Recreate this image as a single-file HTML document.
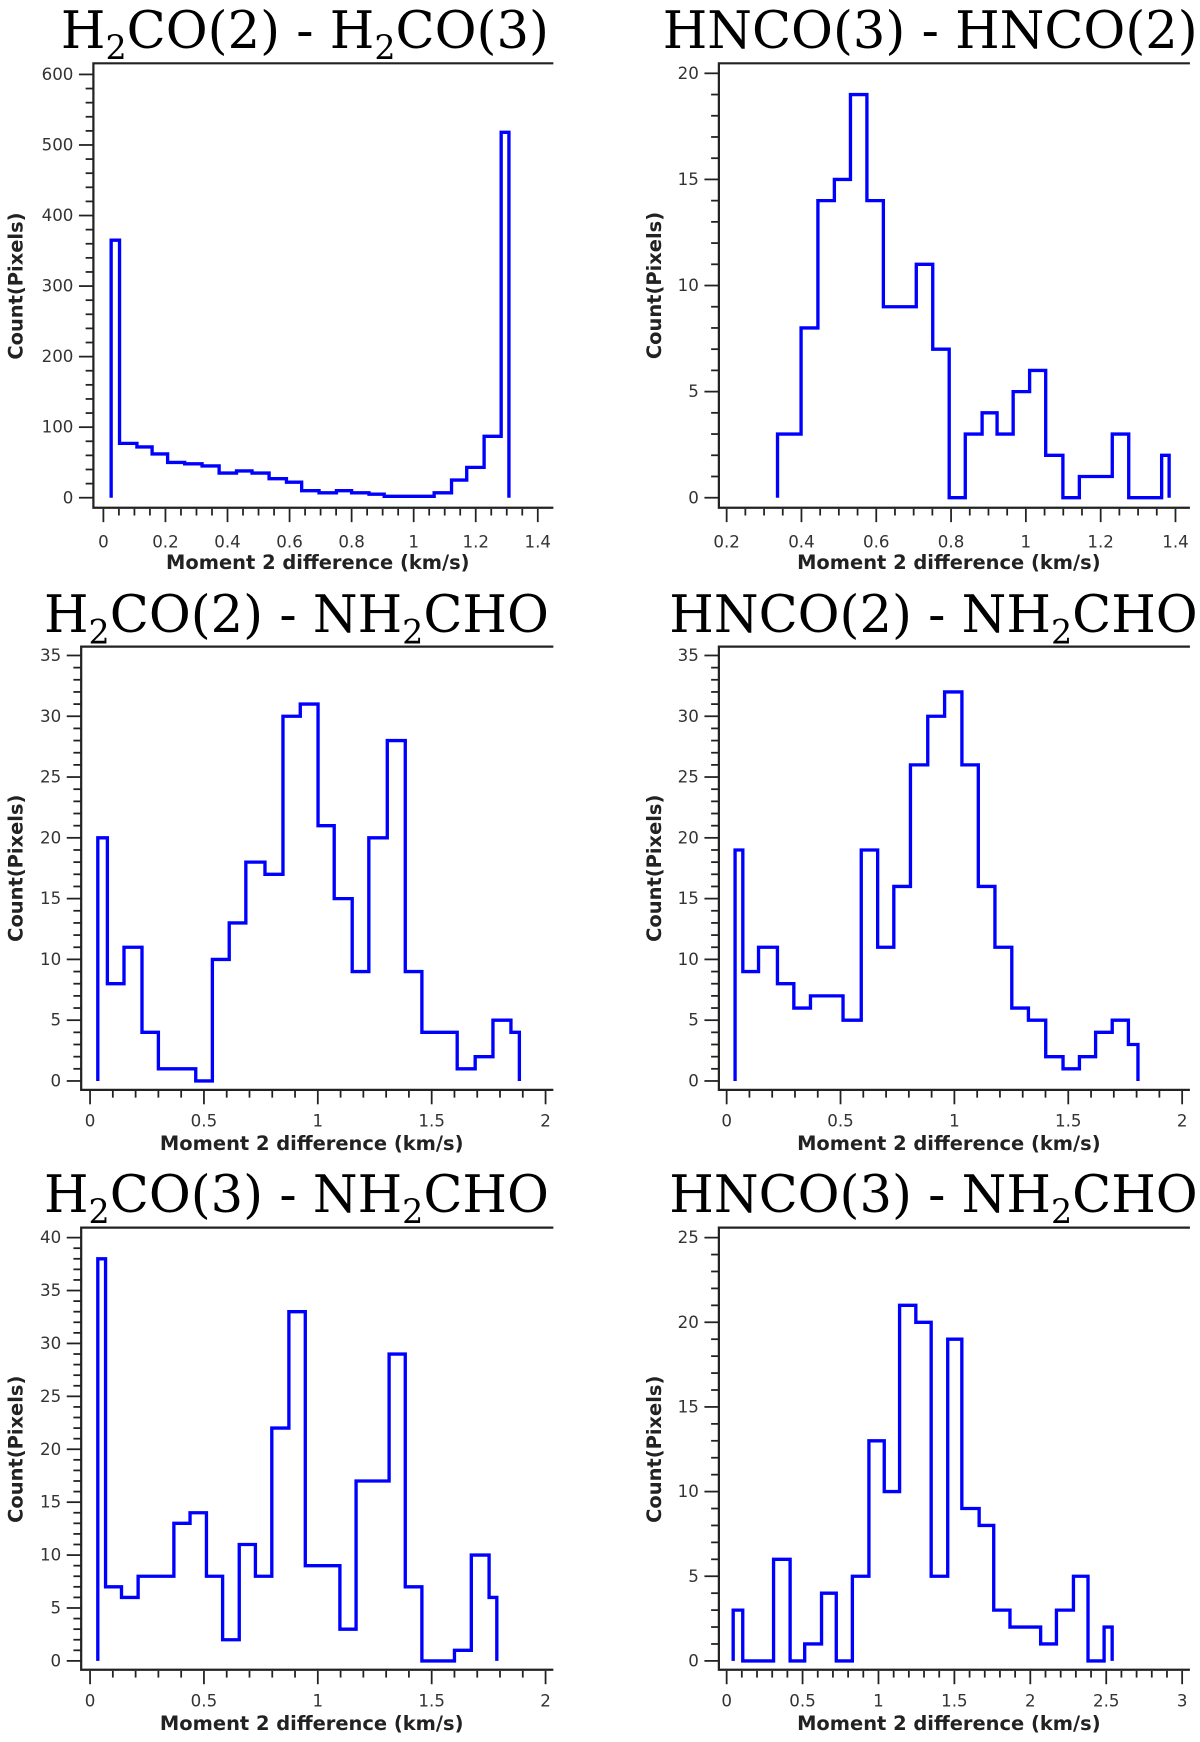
<!DOCTYPE html>
<html><head><meta charset="utf-8"><style>
html,body{margin:0;padding:0;background:#fff;}
svg{display:block;}
.tick{font-family:"DejaVu Sans","Liberation Sans",sans-serif;font-size:15px;fill:#333;}
.axt{font-family:"DejaVu Sans","Liberation Sans",sans-serif;font-size:17.5px;font-weight:bold;fill:#222;}
.ttl{font-family:"DejaVu Serif","Liberation Serif",serif;font-size:46px;fill:#000;}
</style></head><body>
<svg id="fig" xmlns="http://www.w3.org/2000/svg" width="1200" height="1742" viewBox="0 0 1080 1568"></svg>
<script>
// Panel A: H2CO(2) - H2CO(3)
const edgesA=[0.025,0.052,0.108,0.157,0.207,0.262,0.318,0.373,0.429,0.479,0.534,0.590,0.639,0.695,0.751,0.800,0.856,0.905,0.961,1.010,1.066,1.122,1.171,1.227,1.282,1.307];
const countsA=[365,77,72,62,50,48,45,35,38,35,27,22,10,7,10,7,5,2,2,2,7,25,43,87,518];
const yTicksA=[0,100,200,300,400,500,600];
const xTicksA=[0,0.2,0.4,0.6,0.8,1,1.2,1.4];
const xTickLabelsA=["0","0.2","0.4","0.6","0.8","1","1.2","1.4"];
// Panel B: HNCO(3) - HNCO(2)
const edgesB=[0.336,0.399,0.444,0.488,0.531,0.575,0.619,0.663,0.707,0.751,0.795,0.838,0.883,0.923,0.966,1.010,1.053,1.099,1.143,1.187,1.231,1.275,1.318,1.363,1.383];
const countsB=[3,8,14,15,19,14,9,9,11,7,0,3,4,3,5,6,2,0,1,1,3,0,0,2];
const yTicksB=[0,5,10,15,20];
const xTicksB=[0.2,0.4,0.6,0.8,1,1.2,1.4];
const xTickLabelsB=["0.2","0.4","0.6","0.8","1","1.2","1.4"];
// Panel C: H2CO(2) - NH2CHO
const edgesC=[0.034,0.076,0.149,0.228,0.300,0.464,0.537,0.611,0.684,0.768,0.847,0.923,1.001,1.072,1.151,1.224,1.305,1.384,1.457,1.612,1.691,1.769,1.848,1.885];
const countsC=[20,8,11,4,1,0,10,13,18,17,30,31,21,15,9,20,28,9,4,1,2,5,4];
const yTicksC=[0,5,10,15,20,25,30,35];
const xTicksC=[0,0.5,1,1.5,2];
const xTickLabelsC=["0","0.5","1","1.5","2"];
// Panel D: HNCO(2) - NH2CHO
const edgesD=[0.037,0.071,0.140,0.223,0.295,0.368,0.439,0.511,0.591,0.663,0.734,0.807,0.883,0.957,1.033,1.105,1.178,1.252,1.325,1.401,1.477,1.549,1.620,1.693,1.764,1.806];
const countsD=[19,9,11,8,6,7,7,5,19,11,16,26,30,32,26,16,11,6,5,2,1,2,4,5,3];
const yTicksD=[0,5,10,15,20,25,30,35];
const xTicksD=[0,0.5,1,1.5,2];
const xTickLabelsD=["0","0.5","1","1.5","2"];
// Panel E: H2CO(3) - NH2CHO
const edgesE=[0.034,0.068,0.138,0.211,0.368,0.439,0.511,0.582,0.655,0.726,0.798,0.873,0.945,1.097,1.168,1.313,1.384,1.457,1.600,1.674,1.752,1.786];
const countsE=[38,7,6,8,13,14,8,2,11,8,22,33,9,3,17,29,7,0,1,10,6];
const yTicksE=[0,5,10,15,20,25,30,35,40];
const xTicksE=[0,0.5,1,1.5,2];
const xTickLabelsE=["0","0.5","1","1.5","2"];
// Panel F: HNCO(3) - NH2CHO
const edgesF=[0.043,0.106,0.309,0.418,0.514,0.625,0.722,0.828,0.937,1.038,1.139,1.246,1.347,1.456,1.549,1.663,1.759,1.866,2.068,2.172,2.284,2.380,2.486,2.539];
const countsF=[3,0,6,0,1,4,0,5,13,10,21,20,5,19,9,8,3,2,1,3,5,0,2];
const yTicksF=[0,5,10,15,20,25];
const xTicksF=[0,0.5,1,1.5,2,2.5,3];
const xTickLabelsF=["0","0.5","1","1.5","2","2.5","3"];

const NS="http://www.w3.org/2000/svg";
const svg=document.getElementById('fig');
function mk(tag,attrs,parent){const e=document.createElementNS(NS,tag);for(const k in attrs)e.setAttribute(k,attrs[k]);(parent||svg).appendChild(e);return e;}

const panels=[
 {id:'a',title:[['H',0],['2',1],['CO(2) - H',0],['2',1],['CO(3)',0]],edges:edgesA,counts:countsA,yt:yTicksA,ymax:600,yminor:20,xt:xTicksA,xl:xTickLabelsA,xminor:0.05,
  fl:84,fr:498,ft:57,fb:457,x0:0,x1:1.4,px0:93,px1:484,py0:448,py1:67,tb:43,lb:493,ab:512,yax:14,te:494},
 {id:'b',title:[['HNCO(3) - HNCO(2)',0]],edges:edgesB,counts:countsB,yt:yTicksB,ymax:20,yminor:1,xt:xTicksB,xl:xTickLabelsB,xminor:0.05,
  fl:647,fr:1071,ft:57,fb:457,x0:0.2,x1:1.4,px0:654,px1:1058,py0:448,py1:66,tb:43,lb:493,ab:512,yax:589,te:1078},
 {id:'c',title:[['H',0],['2',1],['CO(2) - NH',0],['2',1],['CHO',0]],edges:edgesC,counts:countsC,yt:yTicksC,ymax:35,yminor:1,xt:xTicksC,xl:xTickLabelsC,xminor:0.1,
  fl:73,fr:498,ft:582,fb:981,x0:0,x1:2,px0:81,px1:491,py0:973,py1:590,tb:569,lb:1014,ab:1035,yax:14,te:494},
 {id:'d',title:[['HNCO(2) - NH',0],['2',1],['CHO',0]],edges:edgesD,counts:countsD,yt:yTicksD,ymax:35,yminor:1,xt:xTicksD,xl:xTickLabelsD,xminor:0.1,
  fl:647,fr:1071,ft:582,fb:981,x0:0,x1:2,px0:654,px1:1064,py0:973,py1:590,tb:569,lb:1014,ab:1035,yax:589,te:1078},
 {id:'e',title:[['H',0],['2',1],['CO(3) - NH',0],['2',1],['CHO',0]],edges:edgesE,counts:countsE,yt:yTicksE,ymax:40,yminor:1,xt:xTicksE,xl:xTickLabelsE,xminor:0.1,
  fl:73,fr:498,ft:1105,fb:1503,x0:0,x1:2,px0:81,px1:491,py0:1495,py1:1114,tb:1091,lb:1536,ab:1557,yax:14,te:494},
 {id:'f',title:[['HNCO(3) - NH',0],['2',1],['CHO',0]],edges:edgesF,counts:countsF,yt:yTicksF,ymax:25,yminor:1,xt:xTicksF,xl:xTickLabelsF,xminor:0.1,
  fl:647,fr:1071,ft:1105,fb:1503,x0:0,x1:3,px0:654,px1:1064,py0:1495,py1:1114,tb:1091,lb:1536,ab:1557,yax:589,te:1078}
];

panels.forEach(p=>{
  const g=mk('g',{});
  
  
  const xs=v=>p.px0+(v-p.x0)/(p.x1-p.x0)*(p.px1-p.px0);
  const ys=v=>p.py0-(v/p.ymax)*(p.py0-p.py1);
  const t=mk('text',{x:p.te,y:p.tb,'text-anchor':'end',class:'ttl'},g);
  
  
  p.title.forEach(([s,sub])=>{const ts=mk('tspan',sub?{'font-size':'30','dy':'10'}:{'dy':'0'},t);ts.textContent=s;if(sub){ts.setAttribute('data-sub','1');}});
  const tsp=t.querySelectorAll('tspan');for(let i=1;i<tsp.length;i++){if(!tsp[i].getAttribute('data-sub')&&tsp[i-1].getAttribute('data-sub'))tsp[i].setAttribute('dy','-10');}
  const fr=mk('path',{d:`M${p.fr},${p.ft} H${p.fl} V${p.fb} H${p.fr}`,fill:'none',stroke:'#222','stroke-width':2},g);
  
  
  for(let v=0;v<=p.ymax+1e-9;v+=p.yminor){
    const y=ys(v);const major=p.yt.some(m=>Math.abs(m-v)<1e-9);
    mk('line',{x1:p.fl-(major?13:7),x2:p.fl,y1:y,y2:y,stroke:'#222','stroke-width':1.6},g);
  }
  p.yt.forEach(v=>{
    const tx=mk('text',{x:p.fl-18,y:ys(v)+5,'text-anchor':'end',class:'tick'},g);
    
    
    tx.textContent=String(v);
  });
  const xmin=p.xt[0],xmax=p.xt[p.xt.length-1];
  const n=Math.round((xmax-xmin)/p.xminor);
  for(let i=0;i<=n;i++){
    const v=xmin+i*p.xminor;const x=xs(v);
    const major=p.xt.some(m=>Math.abs(m-v)<1e-6);
    mk('line',{x1:x,x2:x,y1:p.fb+1,y2:p.fb+(major?13:7),stroke:'#222','stroke-width':1.6},g);
  }
  p.xt.forEach((v,i)=>{
    const tx=mk('text',{x:xs(v),y:p.lb,'text-anchor':'middle',class:'tick'},g);
    
    
    tx.textContent=p.xl[i];
  });
  const xa=mk('text',{x:(p.fl+p.fr)/2-5,y:p.ab,'text-anchor':'middle',class:'axt'},g);
  
  
  xa.textContent='Moment 2 difference (km/s)';
  const cy=(p.py0+p.py1)/2;
  const ya=mk('text',{x:p.yax,y:cy,'text-anchor':'middle',class:'axt',transform:`rotate(-90 ${p.yax} ${cy})`,dy:'6'},g);
  
  
  ya.textContent='Count(Pixels)';
  let d=`M${xs(p.edges[0])},${ys(0)}`;
  p.counts.forEach((c,i)=>{d+=` V${ys(c)} H${xs(p.edges[i+1])}`;});
  d+=` V${ys(0)}`;
  const h=mk('path',{d:d,fill:'none',stroke:'#0000ff','stroke-width':3,'stroke-linejoin':'miter'},g);
  
  
});
</script>
</body></html>
